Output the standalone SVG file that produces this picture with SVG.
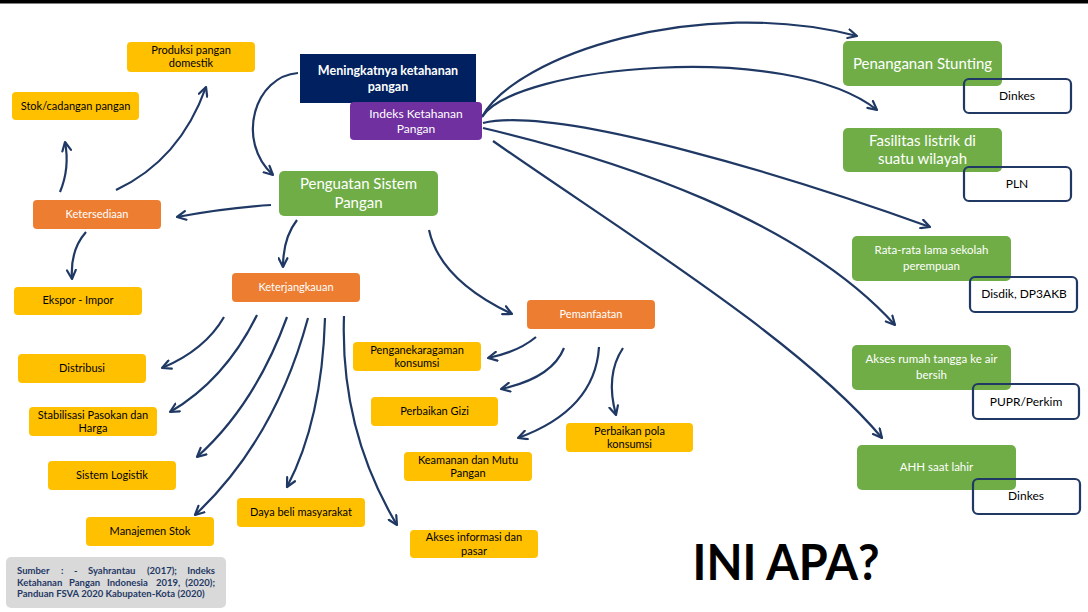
<svg xmlns="http://www.w3.org/2000/svg" width="1088" height="612" viewBox="0 0 1088 612">
<defs>
<marker id="arr" viewBox="0 0 10 10" refX="9" refY="5" markerWidth="11" markerHeight="11" markerUnits="userSpaceOnUse" orient="auto">
<path d="M1,1 L9,5 L1,9" fill="none" stroke="#1F3864" stroke-width="2" stroke-linecap="round" stroke-linejoin="round"/>
</marker>
<style>
text{font-family:Lato,"Open Sans","Liberation Sans",sans-serif;text-anchor:middle}
.y{fill:#FFC000}
.o{fill:#ED7D31}
.g{fill:#70AD47}
.ty{font-size:11px;fill:#000}
.tw{font-size:11px;fill:#fff}
.tg{font-size:15px;fill:#fff}
.tgs{font-size:11.5px;fill:#fff}
.ob{fill:none;stroke:#1F3864;stroke-width:2.2}
.tb{font-size:12px;fill:#000}
.c path{fill:none;stroke:#1F3864;stroke-width:2.2;marker-end:url(#arr)}
.src{font-size:9.5px;font-weight:bold;fill:#1F3864;text-anchor:start}
</style>
</defs>
<rect x="0" y="0" width="1088" height="612" fill="#fff"/>
<rect x="0" y="0" width="1088" height="3.5" fill="#000"/>

<g id="connectors" class="c">
<path d="M298,73 C255,76 235,140 273,175"/>
<path d="M271,205 Q225,208 177,217"/>
<path d="M60,192 Q70,168 65,142"/>
<path d="M116,190 Q180,160 206,87"/>
<path d="M86,232 Q70,250 72,279"/>
<path d="M297,220 Q283,238 283,267"/>
<path d="M429,230 Q440,280 512,314"/>
<path d="M224,317 Q205,350 162,368"/>
<path d="M257,315 Q225,380 170,412"/>
<path d="M287,317 Q255,405 197,457"/>
<path d="M308,318 Q275,440 195,515"/>
<path d="M325,318 Q322,420 287,487"/>
<path d="M344,316 Q340,430 397,525"/>
<path d="M536,337 Q518,352 488,358"/>
<path d="M564,348 Q552,378 501,389"/>
<path d="M599,347 Q595,410 518,438"/>
<path d="M623,348 Q605,375 616,415"/>
<path d="M482,117 C515,55 700,-5 857,36"/>
<path d="M482,117 C515,65 790,40 877,110"/>
<path d="M483,123 C560,105 800,180 930,227"/>
<path d="M483,128 C620,160 800,220 895,325"/>
<path d="M493,141 C620,230 800,340 882,438"/>
</g>

<g id="n-produksi"><rect class="y" x="127" y="42" width="128" height="30" rx="4"/><text class="ty" x="191" y="54">Produksi pangan</text><text class="ty" x="191" y="67">domestik</text></g>
<g id="n-stok"><rect class="y" x="12" y="92" width="127" height="28" rx="4"/><text class="ty" x="75.5" y="110">Stok/cadangan pangan</text></g>
<g id="n-meningkat"><rect x="300" y="54" width="176" height="49" fill="#002060"/><text x="388" y="75" font-size="12.5" font-weight="bold" fill="#fff">Meningkatnya ketahanan</text><text x="388" y="91" font-size="12.5" font-weight="bold" fill="#fff">pangan</text></g>
<g id="n-indeks"><rect x="350" y="102" width="132" height="38" rx="4" fill="#7030A0"/><text x="416" y="117.5" font-size="12" fill="#fff">Indeks Ketahanan</text><text x="416" y="132.5" font-size="12" fill="#fff">Pangan</text></g>
<g id="n-penguatan"><rect class="g" x="279" y="171" width="159" height="45" rx="5"/><text class="tg" x="358.5" y="189">Penguatan Sistem</text><text class="tg" x="358.5" y="208">Pangan</text></g>
<g id="n-ketersediaan"><rect class="o" x="33" y="200" width="128" height="29" rx="4"/><text class="tw" x="97" y="218">Ketersediaan</text></g>
<g id="n-ekspor"><rect class="y" x="14" y="287" width="128" height="28" rx="4"/><text class="ty" x="78" y="304">Ekspor - Impor</text></g>
<g id="n-keterjangkauan"><rect class="o" x="232" y="273" width="128" height="29" rx="4"/><text class="tw" x="296" y="291">Keterjangkauan</text></g>
<g id="n-distribusi"><rect class="y" x="18" y="354" width="128" height="29" rx="4"/><text class="ty" x="82" y="372">Distribusi</text></g>
<g id="n-stabilisasi"><rect class="y" x="29" y="407" width="128" height="29" rx="4"/><text class="ty" x="93" y="418.5">Stabilisasi Pasokan dan</text><text class="ty" x="93" y="432">Harga</text></g>
<g id="n-logistik"><rect class="y" x="48" y="461" width="128" height="29" rx="4"/><text class="ty" x="112" y="479">Sistem Logistik</text></g>
<g id="n-manajemen"><rect class="y" x="86" y="517" width="128" height="29" rx="4"/><text class="ty" x="150" y="535">Manajemen Stok</text></g>
<g id="n-dayabeli"><rect class="y" x="237" y="498" width="128" height="29" rx="4"/><text class="ty" x="301" y="516">Daya beli masyarakat</text></g>
<g id="n-pemanfaatan"><rect class="o" x="527" y="300" width="128" height="29" rx="4"/><text class="tw" x="591" y="318">Pemanfaatan</text></g>
<g id="n-penganekaragaman"><rect class="y" x="353" y="342" width="128" height="29" rx="4"/><text class="ty" x="417" y="353.5">Penganekaragaman</text><text class="ty" x="417" y="366.5">konsumsi</text></g>
<g id="n-gizi"><rect class="y" x="371" y="397" width="127" height="29" rx="4"/><text class="ty" x="434.5" y="415">Perbaikan Gizi</text></g>
<g id="n-keamanan"><rect class="y" x="404" y="452" width="128" height="29" rx="4"/><text class="ty" x="468" y="463.5">Keamanan dan Mutu</text><text class="ty" x="468" y="476.5">Pangan</text></g>
<g id="n-pola"><rect class="y" x="566" y="423" width="127" height="29" rx="4"/><text class="ty" x="629.5" y="434.5">Perbaikan pola</text><text class="ty" x="629.5" y="448">konsumsi</text></g>
<g id="n-akses-info"><rect class="y" x="410" y="530" width="128" height="28" rx="4"/><text class="ty" x="474" y="541">Akses informasi dan</text><text class="ty" x="474" y="554.5">pasar</text></g>

<g id="n-stunting"><rect class="g" x="843" y="41" width="159" height="45" rx="5"/><text class="tg" x="922.5" y="69">Penanganan Stunting</text></g>
<g id="n-dinkes1"><rect class="ob" x="964" y="79" width="107" height="34" rx="5"/><text class="tb" x="1017" y="100">Dinkes</text></g>
<g id="n-listrik"><rect class="g" x="843" y="128" width="159" height="44" rx="5"/><text class="tg" x="922.5" y="146">Fasilitas listrik di</text><text class="tg" x="922.5" y="164">suatu wilayah</text></g>
<g id="n-pln"><rect class="ob" x="964" y="167" width="107" height="34" rx="5"/><text class="tb" x="1017" y="188">PLN</text></g>
<g id="n-sekolah"><rect class="g" x="852" y="236" width="159" height="45" rx="5"/><text class="tgs" x="931.5" y="254">Rata-rata lama sekolah</text><text class="tgs" x="931.5" y="269.5">perempuan</text></g>
<g id="n-disdik"><rect class="ob" x="970" y="277" width="107" height="35" rx="5"/><text class="tb" x="1024" y="298">Disdik, DP3AKB</text></g>
<g id="n-air"><rect class="g" x="852" y="345" width="159" height="45" rx="5"/><text class="tgs" x="931.5" y="363">Akses rumah tangga ke air</text><text class="tgs" x="931.5" y="378.5">bersih</text></g>
<g id="n-pupr"><rect class="ob" x="973" y="384" width="106" height="35" rx="5"/><text class="tb" x="1026" y="406">PUPR/Perkim</text></g>
<g id="n-ahh"><rect class="g" x="857" y="445" width="159" height="45" rx="5"/><text class="tgs" x="936.5" y="471">AHH saat lahir</text></g>
<g id="n-dinkes2"><rect class="ob" x="973" y="479" width="107" height="35" rx="5"/><text class="tb" x="1026" y="500">Dinkes</text></g>

<g id="sumber">
<rect x="6" y="557" width="220" height="51" rx="5" fill="#D9D9D9"/>
<text class="src" y="574"><tspan x="17">Sumber</tspan><tspan x="61">:</tspan><tspan x="74">-</tspan><tspan x="88">Syahrantau</tspan><tspan x="147">(2017);</tspan><tspan x="215" text-anchor="end">Indeks</tspan></text>
<text class="src" y="586"><tspan x="17">Ketahanan</tspan><tspan x="69">Pangan</tspan><tspan x="107">Indonesia</tspan><tspan x="156">2019,</tspan><tspan x="215" text-anchor="end">(2020);</tspan></text>
<text class="src" x="17" y="597">Panduan FSVA 2020 Kabupaten-Kota (2020)</text>
</g>

<text id="title" x="786" y="580" font-size="49" font-weight="bold" fill="#000" textLength="187" lengthAdjust="spacingAndGlyphs">INI APA?</text>
</svg>
